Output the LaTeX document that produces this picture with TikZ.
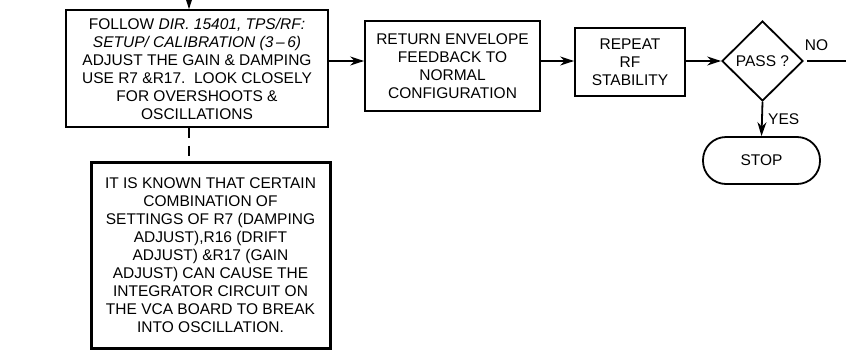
\documentclass[tikz,border=0pt]{standalone}
\usepackage{fontspec}
\setmainfont{Liberation Sans}
\usetikzlibrary{shapes.geometric,arrows.meta,positioning,calc}

\begin{document}
\begin{tikzpicture}[x=1pt,y=-1pt,
    every node/.style={font=\fontsize{15.5}{18}\selectfont, align=center},
    stepbox/.style={draw, line width=1.8pt, inner sep=0pt},
    notebox/.style={draw, line width=3pt, inner sep=0pt},
    decision/.style={draw, diamond, line width=1.8pt, inner sep=0pt, minimum width=81pt, minimum height=80pt},
    terminal/.style={draw, rounded corners=23pt, line width=1.8pt, inner sep=0pt, minimum width=117pt, minimum height=47pt},
    arr/.style={line width=1.8pt, -{Stealth[length=14pt,width=9pt]}},
    link/.style={line width=1.8pt}]
    \useasboundingbox (0,0) rectangle (846,359);

    % Steps
    \node[stepbox, minimum width=262pt, minimum height=117pt] (follow) at (197,68.5)
        {FOLLOW \textit{DIR. 15401, TPS/RF:}\\ \textit{SETUP/ CALIBRATION (3\,--\,6)}\\ ADJUST THE GAIN \& DAMPING\\ USE R7 \&R17.\ \ LOOK CLOSELY\\ FOR OVERSHOOTS \&\\ OSCILLATIONS};
    \node[stepbox, minimum width=175pt, minimum height=90pt] (return) at (452.5,66)
        {RETURN ENVELOPE\\ FEEDBACK TO\\ NORMAL\\ CONFIGURATION};
    \node[stepbox, minimum width=110pt, minimum height=68pt] (repeat) at (630,62)
        {REPEAT\\ RF\\ STABILITY};
    \node[decision] (pass) at (762.5,61) {PASS ?};
    \node[terminal] (stop) at (761.5,160.5) {STOP};

    % Note
    \node[notebox, minimum width=239pt, minimum height=186pt] (note) at (210.5,255)
        {IT IS KNOWN THAT CERTAIN\\ COMBINATION OF\\ SETTINGS OF R7 (DAMPING\\ ADJUST),R16 (DRIFT\\ ADJUST) \&R17 (GAIN\\ ADJUST) CAN CAUSE THE\\ INTEGRATOR CIRCUIT ON\\ THE VCA BOARD TO BREAK\\ INTO OSCILLATION.};

    % Connectors
    \coordinate (entry) at (189,0);
    \coordinate (noend) at (846,61);
    \draw[arr] (entry) -- (entry |- follow.north);
    \draw[arr] (follow.east |- pass) -- (return.west |- pass);
    \draw[arr] (return.east |- pass) -- (repeat.west |- pass);
    \draw[arr] (repeat.east |- pass) -- (pass.west);
    \draw[link, shorten <=3pt] (pass.east) -- (noend) node[pos=0.3, above=6pt] {NO};
    \draw[arr] (pass.south) -- (stop.north) node[midway, right=2pt] {YES};
    \draw[link, dash pattern=on 10pt off 8pt] (entry |- follow.south) -- (entry |- note.north);
\end{tikzpicture}
\end{document}
